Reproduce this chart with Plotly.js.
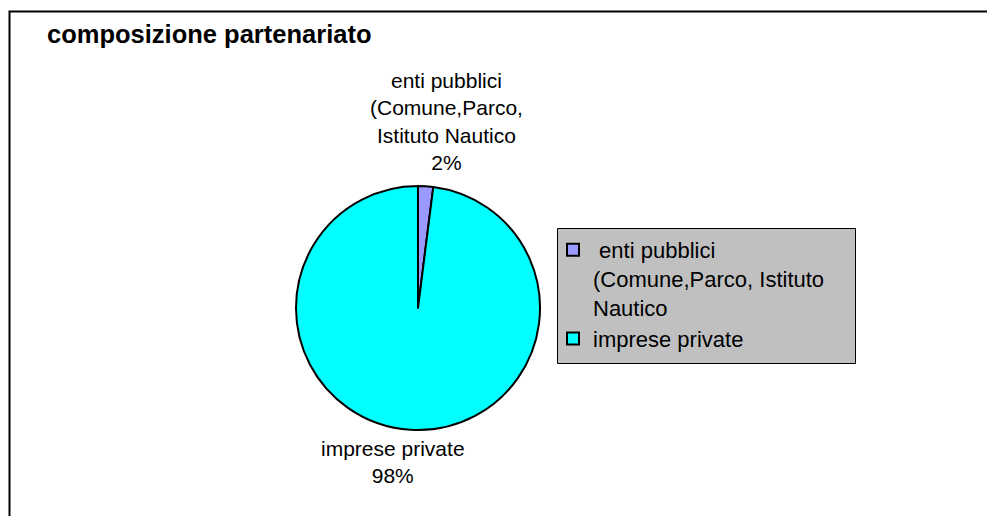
<!DOCTYPE html>
<html>
<head>
<meta charset="utf-8">
<script src="https://cdn.plot.ly/plotly-3.0.1.min.js"></script>
<style>html,body{margin:0;padding:0;background:#fff;}#chart{width:987px;height:516px;}</style>
</head>
<body>
<div id="chart"></div>
<script>
// Data
var categories = ["enti pubblici (Comune,Parco, Istituto Nautico", "imprese private"];
var values = [2, 98];
var colors = ["#9999FF", "#00FFFF"];
var legendNames = [" enti pubblici<br>(Comune,Parco, Istituto<br>Nautico", "imprese private"];
var sliceLabels = ["enti pubblici<br>(Comune,Parco,<br>Istituto Nautico", "imprese private"];
var titleText = "composizione partenariato";

var W = 987, H = 516;
function px(x){ return x / W; }
function py(y){ return 1 - y / H; }

var total = values.reduce(function(a,b){return a+b;}, 0);
var pct = values.map(function(v){ return Math.round(v / total * 100) + "%"; });

var cx = 418, cy = 308, r = 122;

var trace = {
  type: "pie",
  labels: legendNames,
  values: values,
  sort: false,
  direction: "clockwise",
  rotation: 0,
  textinfo: "none",
  hoverinfo: "label+percent",
  marker: { colors: colors, line: { color: "#000000", width: 2 } },
  domain: { x: [px(cx - r), px(cx + r)], y: [py(cy + r), py(cy - r)] }
};

var labelPos = [ {x: 446, y: 122}, {x: 393, y: 462} ];
var annotations = sliceLabels.map(function(t, i){
  return {
    xref: "paper", yref: "paper",
    x: px(labelPos[i].x), y: py(labelPos[i].y),
    xanchor: "center", yanchor: "middle",
    text: t + "<br>" + pct[i],
    showarrow: false,
    align: "center",
    font: { family: "Liberation Sans, Arial, sans-serif", size: 21, color: "#000" }
  };
});

var layout = {
  width: W, height: H,
  margin: { l: 0, r: 0, t: 0, b: 0 },
  paper_bgcolor: "#ffffff",
  font: { family: "Liberation Sans, Arial, sans-serif", color: "#000" },
  title: {
    text: "<b>" + titleText + "</b>",
    x: px(47), xanchor: "left", xref: "paper",
    y: py(34), yanchor: "middle", yref: "paper",
    font: { family: "Liberation Sans, Arial, sans-serif", size: 25.5, color: "#000" }
  },
  showlegend: true,
  legend: {
    x: px(553), y: py(229), xanchor: "left", yanchor: "top",
    bgcolor: "rgba(0,0,0,0)", borderwidth: 0,
    valign: "top", tracegroupgap: 0,
    font: { family: "Liberation Sans, Arial, sans-serif", size: 22, color: "#000" }
  },
  shapes: [
    { type: "rect", xref: "paper", yref: "paper", x0: px(9.5), x1: 1.05, y0: -0.05, y1: py(11.5),
      line: { color: "#000", width: 2 }, fillcolor: "rgba(0,0,0,0)", layer: "below" },
    { type: "rect", xref: "paper", yref: "paper", x0: px(557.5), x1: px(855.5), y0: py(363.5), y1: py(228.5),
      line: { color: "#000", width: 1 }, fillcolor: "#C0C0C0", layer: "below" }
  ],
  annotations: annotations
};

Plotly.newPlot("chart", [trace], layout, { displayModeBar: false, staticPlot: true });
</script>
</body>
</html>
